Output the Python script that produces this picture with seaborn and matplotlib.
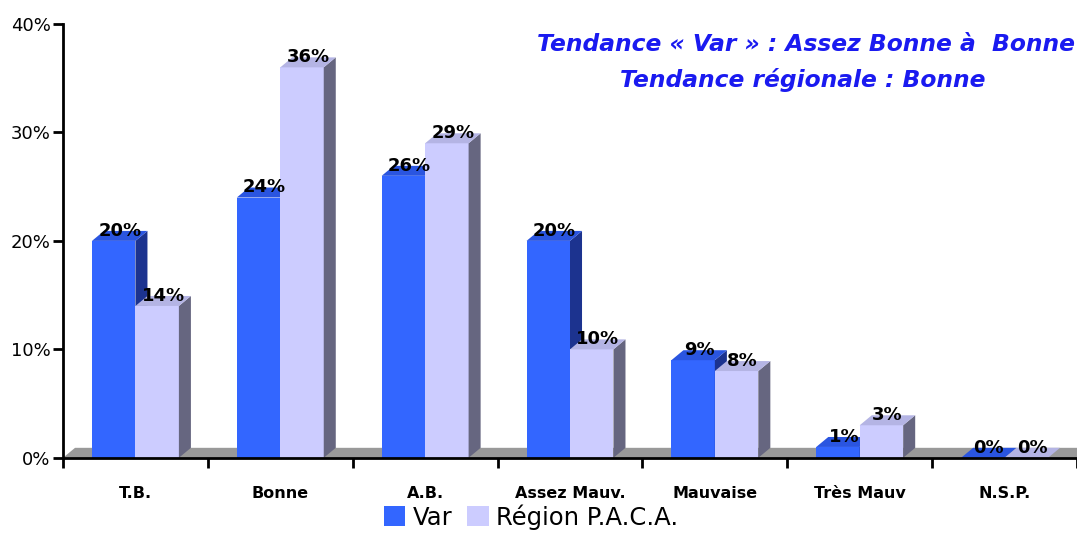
import pandas as pd
import numpy as np
import matplotlib.pyplot as plt
import seaborn as sns
from matplotlib.patches import Polygon, Patch

categories = ["T.B.", "Bonne", "A.B.", "Assez Mauv.", "Mauvaise", "Très Mauv", "N.S.P."]
var_values = [20, 24, 26, 20, 9, 1, 0]
paca_values = [14, 36, 29, 10, 8, 3, 0]
series = ["Var", "Région P.A.C.A."]
yticks = [0, 10, 20, 30, 40]

front_colors = ["#3366FF", "#CCCCFF"]
side_colors = ["#1C338F", "#666680"]
top_colors = ["#2A55E0", "#B4B4E4"]

data = pd.DataFrame({
    "cat": categories * 2,
    "val": var_values + paca_values,
    "serie": [series[0]] * len(categories) + [series[1]] * len(categories),
})

sns.set_style("white")
plt.rcParams["text.color"] = "black"
plt.rcParams["xtick.color"] = "black"
plt.rcParams["ytick.color"] = "black"

fig = plt.figure(figsize=(10.77, 5.45), dpi=100)
ax = fig.add_axes([0.0585, 0.16, 0.9415, 0.796])

sns.barplot(data=data, x="cat", y="val", hue="serie", palette=front_colors,
            width=0.6, saturation=1, ax=ax, zorder=3, linewidth=0)
if ax.legend_ is not None:
    ax.legend_.remove()

ax.set_xlim(-0.5, 6.5)
ax.set_ylim(0, 40)

# depth of the fake 3D effect, in data units
dx = 0.083
dy = 0.92

# floor
floor = Polygon([(-0.5, 0), (6.5, 0), (6.5 + dx, dy), (-0.5 + dx, dy)],
                closed=True, facecolor="#999999", edgecolor="none", zorder=2)
ax.add_patch(floor)

for k, cont in enumerate(ax.containers):
    for bar in cont:
        bar.set_zorder(3 + k)
        x0 = bar.get_x()
        w = bar.get_width()
        h = bar.get_height()
        x1 = x0 + w
        side = Polygon([(x1, 0), (x1 + dx, dy), (x1 + dx, h + dy), (x1, h)],
                       closed=True, facecolor=side_colors[k], edgecolor="none", zorder=3 + k)
        top = Polygon([(x0, h), (x1, h), (x1 + dx, h + dy), (x0 + dx, h + dy)],
                      closed=True, facecolor=top_colors[k], edgecolor="none", zorder=3 + k)
        ax.add_patch(side)
        ax.add_patch(top)
        ax.text(x0 + w / 2 + dx / 2, h + 0.1, f"{h:.0f}%", ha="center", va="bottom",
                fontsize=13, fontweight="bold", color="black", zorder=10)

# axes styling
for s in ["top", "right"]:
    ax.spines[s].set_visible(False)
for s in ["left", "bottom"]:
    ax.spines[s].set_linewidth(2)
    ax.spines[s].set_color("black")
    ax.spines[s].set_zorder(6)

ax.set_yticks(yticks)
ax.set_yticklabels([f"{v}%" for v in yticks], fontsize=13, color="black")
ax.tick_params(axis="y", left=True, direction="out", length=7, width=2, pad=2)

ax.set_xticks(np.arange(-0.5, 7, 1))
ax.set_xticklabels([])
ax.tick_params(axis="x", which="major", bottom=True, direction="out", length=7, width=2)
ax.set_xticks(np.arange(len(categories)), minor=True)
ax.set_xticklabels(categories, minor=True, fontsize=11.5, fontweight="bold", color="black")
ax.tick_params(axis="x", which="minor", bottom=True, length=0, pad=20)
ax.set_xlabel("")
ax.set_ylabel("")
ax.grid(False)

fig.text(0.748, 0.918, "Tendance « Var » : Assez Bonne à  Bonne", ha="center", va="center",
         fontsize=16.8, fontweight="bold", fontstyle="italic", color="#1A1AF0")
fig.text(0.745, 0.853, "Tendance régionale : Bonne", ha="center", va="center",
         fontsize=16.8, fontweight="bold", fontstyle="italic", color="#1A1AF0")

handles = [Patch(facecolor=c, edgecolor="none") for c in front_colors]
fig.legend(handles, series, loc="lower center", bbox_to_anchor=(0.493, -0.012), ncol=2,
           frameon=False, fontsize=17.5, handlelength=0.9, handleheight=0.9,
           handletextpad=0.3, columnspacing=0.6)

fig.savefig("out.png", dpi=100)
